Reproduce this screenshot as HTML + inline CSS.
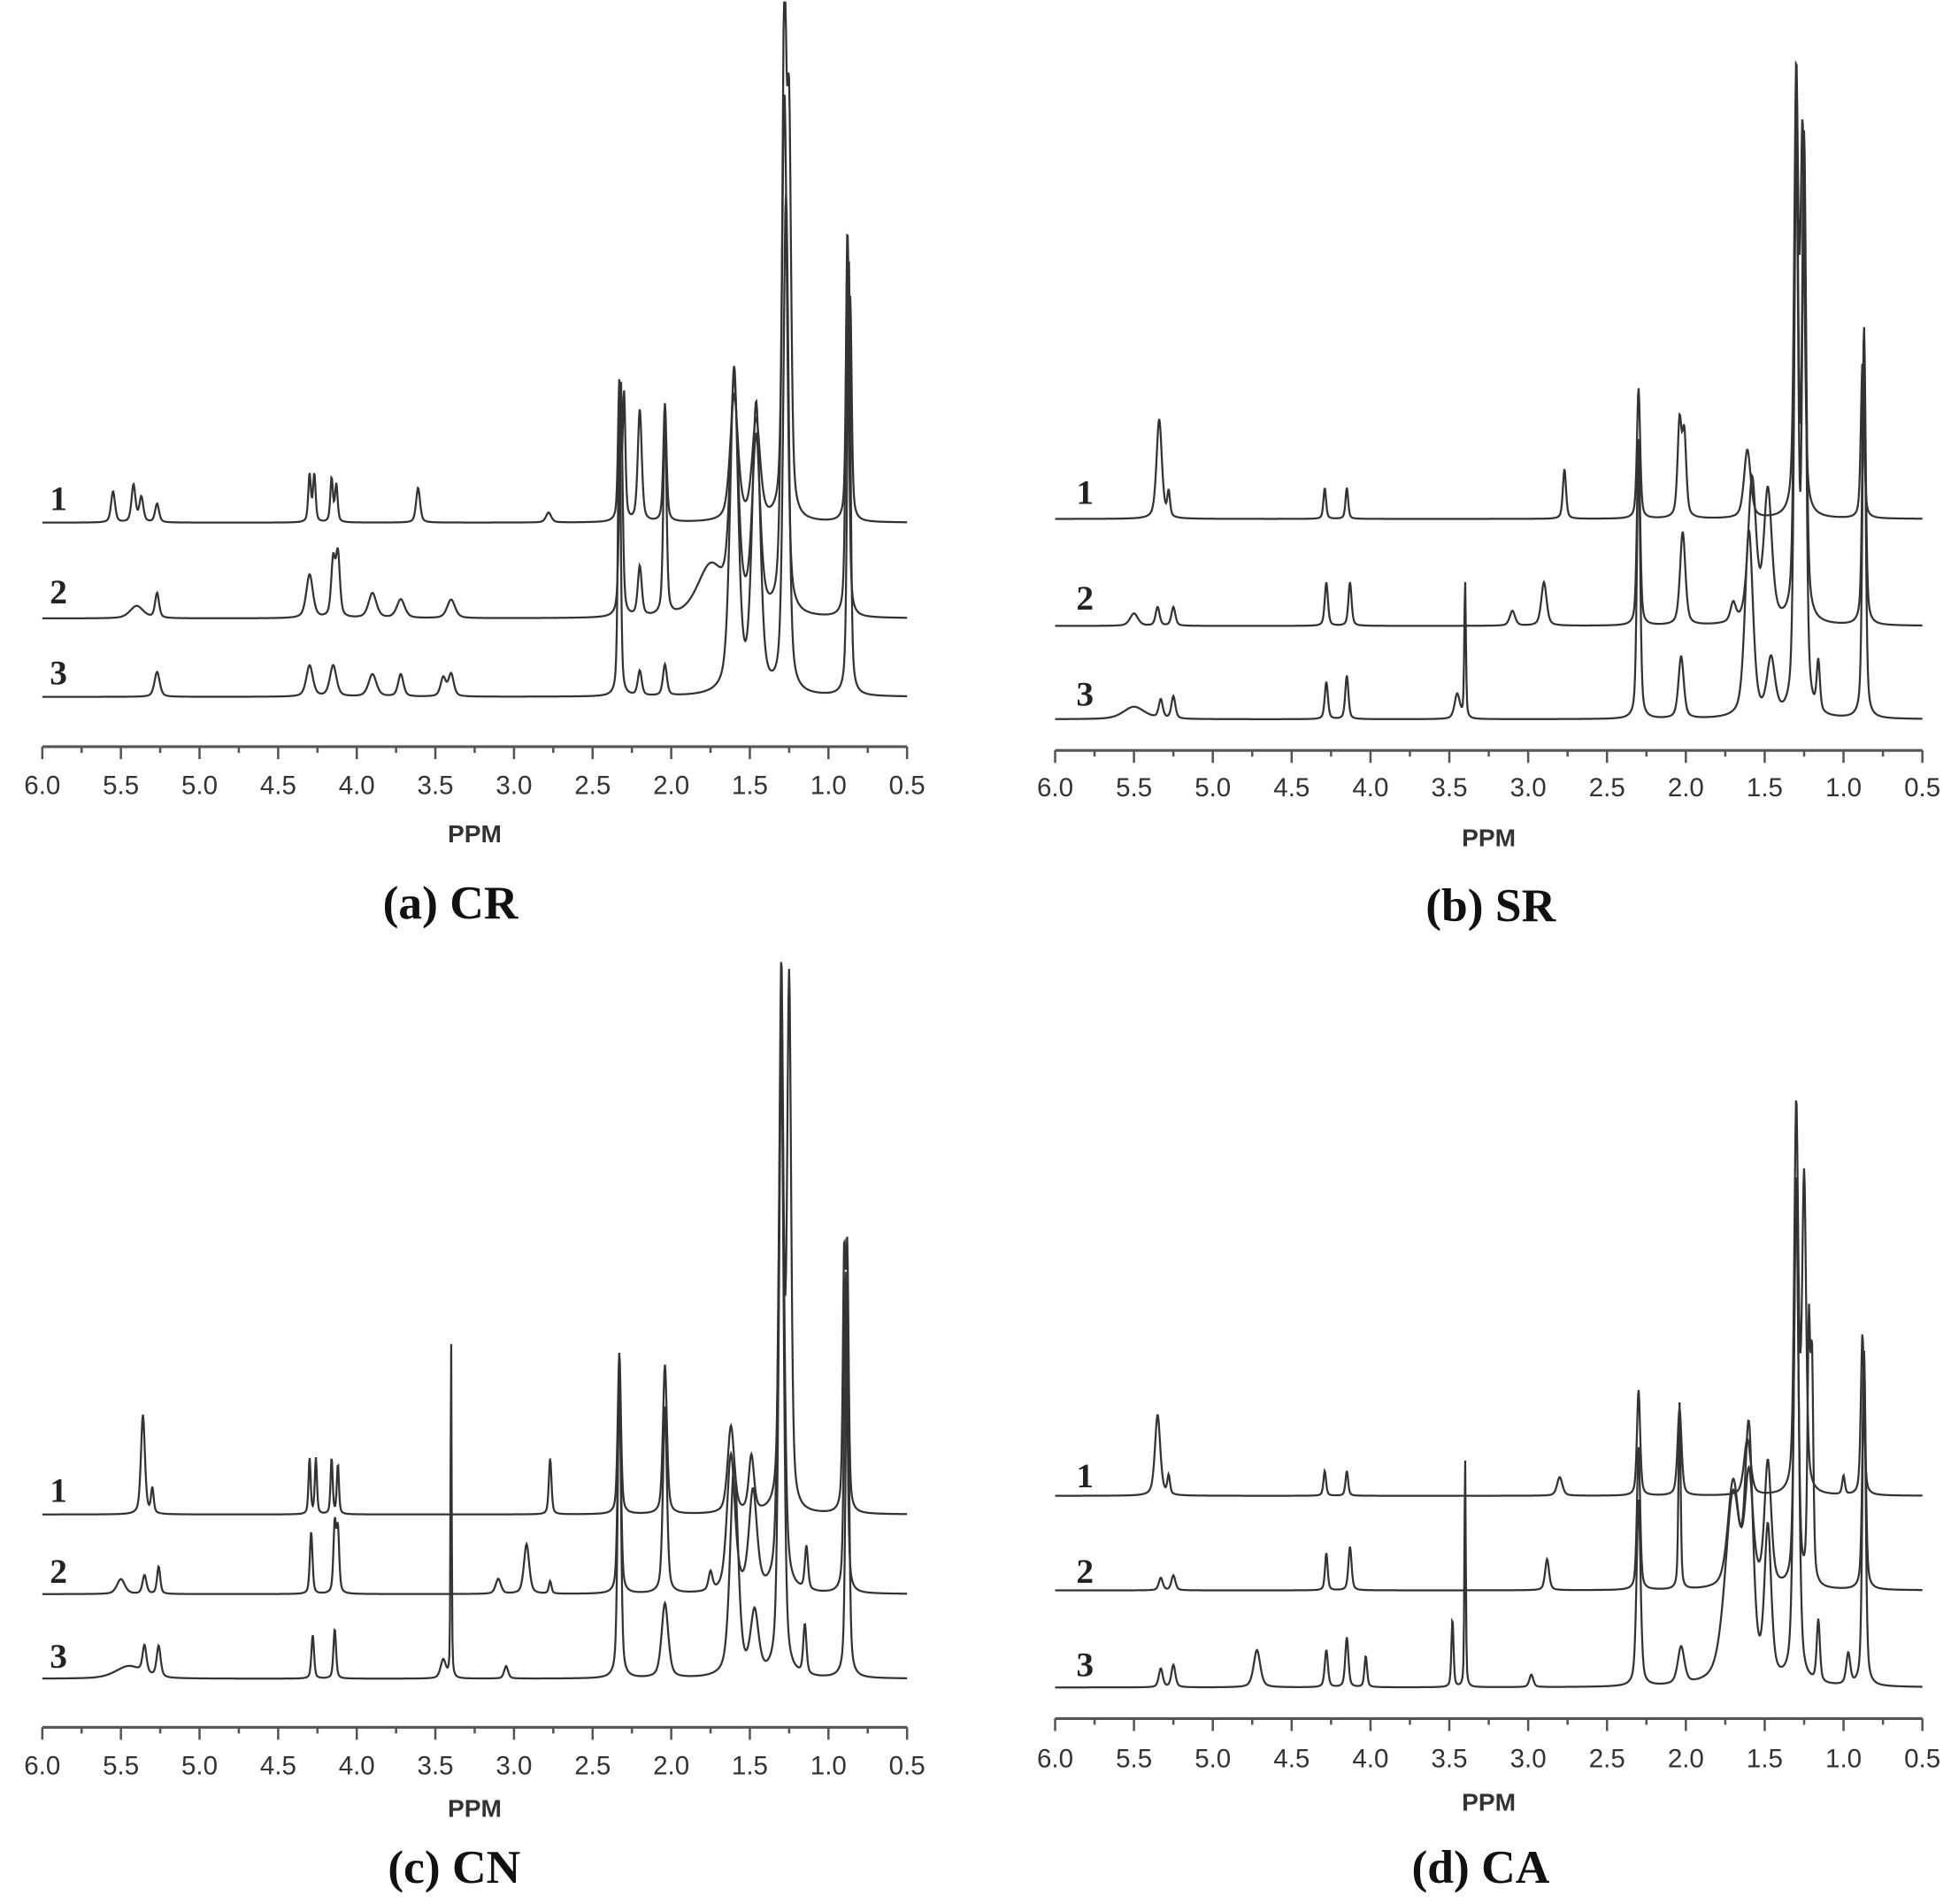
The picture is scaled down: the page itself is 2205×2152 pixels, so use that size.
<!DOCTYPE html>
<html><head><meta charset="utf-8"><style>html,body{margin:0;padding:0;background:#fff}svg{display:block}</style></head>
<body>
<svg id="fig" width="2205" height="2152" viewBox="0 0 1568 1530" preserveAspectRatio="none" xmlns="http://www.w3.org/2000/svg"></svg>
<script>
const tickLabels = ["6.0","5.5","5.0","4.5","4.0","3.5","3.0","2.5","2.0","1.5","1.0","0.5"];
const tickValues = [6.0,5.5,5.0,4.5,4.0,3.5,3.0,2.5,2.0,1.5,1.0,0.5];
const panelTitles = ["(a) CR","(b) SR","(c) CN","(d) CA"];
const traceNames = ["1","2","3"];
// peaks: [ppm, height, width]
const crTrace1 = [[5.55,25,.015],[5.42,30,.015],[5.37,20,.015],[5.27,15,.015],[4.30,38,.01],[4.27,38,.01],[4.16,35,.01],[4.13,30,.01],[3.61,28,.015],[2.78,8,.02],[2.33,110,.01],[2.30,100,.01],[2.20,90,.015],[2.04,95,.012],[1.60,100,.03],[1.46,80,.03],[1.28,415,.015],[1.25,300,.015],[0.88,215,.01],[0.86,150,.01]];
const crTrace2 = [[5.40,10,.05],[5.27,20,.015],[4.30,35,.025],[4.15,45,.015],[4.12,50,.015],[3.90,20,.03],[3.72,15,.03],[3.40,15,.03],[2.32,190,.012],[2.20,40,.015],[2.04,160,.012],[1.75,40,.1],[1.60,180,.03],[1.46,140,.03],[1.28,420,.02],[0.88,290,.012]];
const crTrace3 = [[5.27,20,.02],[4.30,25,.025],[4.15,25,.025],[3.90,18,.03],[3.72,18,.02],[3.45,15,.02],[3.40,18,.02],[2.33,250,.01],[2.20,20,.015],[2.04,25,.015],[1.60,260,.03],[1.46,230,.03],[1.27,400,.02],[0.87,350,.012]];
const srTrace1 = [[5.34,80,.02],[5.28,20,.01],[4.29,25,.01],[4.15,25,.01],[2.77,40,.012],[2.30,105,.012],[2.04,75,.015],[2.01,65,.015],[1.61,55,.025],[1.30,350,.015],[1.26,300,.015],[0.88,125,.012]];
const srTrace2 = [[5.50,10,.03],[5.35,15,.015],[5.25,15,.015],[4.28,35,.012],[4.13,35,.012],[3.10,12,.02],[2.90,35,.02],[2.30,150,.012],[2.02,75,.02],[1.70,15,.02],[1.58,115,.03],[1.48,105,.03],[1.30,400,.015],[1.25,380,.015],[0.87,240,.012]];
const srTrace3 = [[5.50,10,.08],[5.33,15,.015],[5.25,18,.015],[4.28,30,.012],[4.15,35,.012],[3.45,20,.02],[3.40,110,.006],[2.30,220,.012],[2.03,50,.02],[1.60,150,.03],[1.46,45,.03],[1.30,450,.015],[1.25,430,.015],[1.16,40,.012],[0.87,300,.012]];
const cnTrace1 = [[5.36,80,.015],[5.30,20,.01],[4.30,45,.008],[4.26,45,.008],[4.16,45,.008],[4.12,40,.008],[2.77,45,.01],[2.33,130,.012],[2.04,120,.015],[1.62,70,.025],[1.49,45,.02],[1.30,430,.015],[1.25,420,.015],[0.90,195,.01],[0.88,195,.01]];
const cnTrace2 = [[5.50,12,.03],[5.35,15,.015],[5.26,22,.012],[4.29,50,.01],[4.14,55,.01],[4.12,50,.01],[3.10,12,.02],[2.92,40,.02],[2.77,10,.01],[2.33,170,.012],[2.04,150,.015],[1.75,15,.015],[1.62,110,.03],[1.48,80,.03],[1.30,450,.02],[1.14,35,.012],[0.89,260,.012]];
const cnTrace3 = [[5.45,10,.1],[5.35,22,.015],[5.26,25,.015],[4.28,35,.01],[4.14,40,.01],[3.45,15,.02],[3.40,275,.004],[3.05,10,.015],[2.33,250,.012],[2.04,60,.025],[1.60,170,.03],[1.47,50,.03],[1.30,500,.018],[1.15,40,.012],[0.88,320,.012]];
const caTrace1 = [[5.35,65,.02],[5.28,15,.01],[4.29,20,.01],[4.15,20,.01],[2.80,15,.02],[2.30,85,.012],[2.04,70,.015],[1.61,45,.025],[1.30,310,.015],[1.25,250,.015],[1.00,15,.01],[0.88,130,.012]];
const caTrace2 = [[5.33,10,.015],[5.25,12,.015],[4.28,30,.01],[4.13,35,.012],[2.88,25,.015],[2.30,115,.012],[2.04,150,.008],[1.70,85,.04],[1.60,90,.03],[1.48,100,.025],[1.30,330,.015],[1.22,200,.01],[1.20,170,.01],[0.87,190,.012]];
const caTrace3 = [[5.33,15,.015],[5.25,18,.015],[4.72,30,.025],[4.28,30,.012],[4.15,40,.012],[4.03,25,.01],[3.48,55,.008],[3.40,185,.005],[2.98,10,.015],[2.30,150,.015],[2.03,30,.025],[1.70,150,.06],[1.60,180,.03],[1.48,120,.025],[1.30,400,.018],[1.16,50,.012],[0.97,25,.015],[0.87,270,.012]];
const panelTraces = [[crTrace1,crTrace2,crTrace3],[srTrace1,srTrace2,srTrace3],[cnTrace1,cnTrace2,cnTrace3],[caTrace1,caTrace2,caTrace3]];
const layout = [
 {x0:34,x1:729,ay:600,lab:630,ppm:670,title:725,tx:362,base:[420,497,560],ly:[400,475,540],lx:47},
 {x0:848,x1:1545,ay:603,lab:632,ppm:673,title:727,tx:1198,base:[417,503,578],ly:[395,480,557],lx:872},
 {x0:34,x1:729,ay:1388,lab:1418,ppm:1453,title:1500,tx:365,base:[1217,1281,1349],ly:[1197,1262,1330],lx:47},
 {x0:848,x1:1545,ay:1381,lab:1412,ppm:1448,title:1500,tx:1190,base:[1202,1278,1356],ly:[1185,1262,1337],lx:872}
];
const NS="http://www.w3.org/2000/svg";
const svg=document.getElementById('fig');
function mk(tag,attrs,parent){const e=document.createElementNS(NS,tag);for(const k in attrs)e.setAttribute(k,attrs[k]);parent.appendChild(e);return e;}
layout.forEach((L,pi)=>{
  const g=mk('g',{},svg);
  
  
  const xs=p=>L.x0+(6.0-p)/(5.5)*(L.x1-L.x0);
  const ax=mk('line',{x1:L.x0,x2:L.x1,y1:L.ay,y2:L.ay,stroke:'#555','stroke-width':2.2},g);
  
  
  for(let i=0;i<=22;i++){const p=6-i*0.25;const len=i%2==0?10:5;
    const t=mk('line',{x1:xs(p),x2:xs(p),y1:L.ay,y2:L.ay+len,stroke:'#555','stroke-width':1.8},g);
    
    }
  tickValues.forEach((v,i)=>{const t=mk('text',{x:xs(v),y:L.lab+8,'text-anchor':'middle','font-family':'Liberation Sans, sans-serif','font-size':21,fill:'#333'},g);t.textContent=tickLabels[i];
    
    });
  const pp=mk('text',{x:(L.x0+L.x1)/2,y:L.ppm+7,'text-anchor':'middle','font-family':'Liberation Sans, sans-serif','font-size':20,'font-weight':'bold',fill:'#333'},g);pp.textContent='PPM';
  
  
  const tt=mk('text',{x:L.tx,y:L.title+13,'text-anchor':'middle','font-family':'Liberation Serif, serif','font-size':38,'font-weight':'bold',fill:'#111'},g);tt.textContent=panelTitles[pi];
  
  
  panelTraces[pi].forEach((peaks,ti)=>{
    const b=L.base[ti];let d='';
    const N=1400;
    for(let k=0;k<=N;k++){const p=6-k*5.5/N;let h=0;
      peaks.forEach(q=>{const z=(p-q[0])/q[2];h+=q[1]*(0.5/(1+z*z)+0.5*Math.exp(-0.693*z*z));});
      let y=Math.max(2,b-h);d+=(k?'L':'M')+xs(p).toFixed(2)+' '+y.toFixed(2);}
    const pa=mk('path',{d:d,fill:'none',stroke:'#333','stroke-width':1.6},g);
    
    
    const lb=mk('text',{x:L.lx,y:L.ly[ti]+10,'text-anchor':'middle','font-family':'Liberation Serif, serif','font-size':28,'font-weight':'bold',fill:'#222'},g);lb.textContent=traceNames[ti];
    
    
  });
});
</script>
</body></html>
